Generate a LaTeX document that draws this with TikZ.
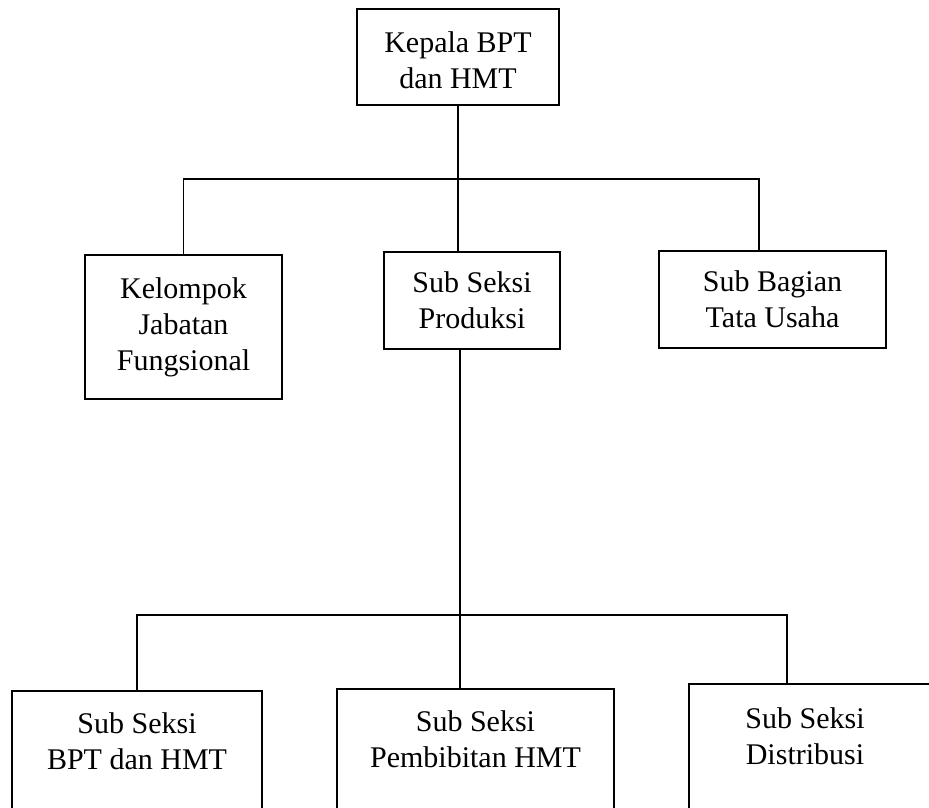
\documentclass[tikz,border=0pt]{standalone}
\usepackage{fontspec}
\setmainfont{Liberation Serif}
\begin{document}
\begin{tikzpicture}[x=1pt,y=-1pt,line width=1.9pt,
  orgbox/.style={draw,rectangle,inner sep=0pt,align=center,font=\fontsize{30}{36}\selectfont},
  orgtext/.style={inner sep=0pt,align=center,font=\fontsize{30}{36}\selectfont},
  link/.style={draw,line width=1.9pt}]
\clip (0,0) rectangle (929,807);
\fill[white] (0,0) rectangle (929,807);
% boxes
\node[orgbox,minimum width=202pt,minimum height=96pt] (top) at (458,57) {};
\node[orgtext] (topt) at (458,60) {Kepala BPT\\dan HMT};
\node[orgbox,minimum width=197pt,minimum height=144pt] (kel) at (183.5,327) {Kelompok\\Jabatan\\Fungsional};
\node[orgbox,minimum width=176pt,minimum height=97pt] (prod) at (472,300.5) {Sub Seksi\\Produksi};
\node[orgbox,minimum width=227pt,minimum height=97pt] (bag) at (772.5,299.5) {Sub Bagian\\Tata Usaha};
\node[orgbox,minimum width=250pt,minimum height=160pt,anchor=north] (b1) at (137,690) {};
\node[orgbox,minimum width=277pt,minimum height=160pt,anchor=north] (b2) at (475.5,688) {};
\node[orgbox,minimum width=260pt,minimum height=160pt,anchor=north west] (b3) at (688,683) {};
\node[orgtext] (b1t) at (137,741) {Sub Seksi\\BPT dan HMT};
\node[orgtext] (b2t) at (475.5,739) {Sub Seksi\\Pembibitan HMT};
\node[orgtext] (b3t) at (805,736) {Sub Seksi\\Distribusi};
% junction coordinates
\coordinate (j1) at (458,179);
\coordinate (bagin) at (759,251);
\coordinate (j2) at (460,615);
\coordinate (b3in) at (787,683);
% connectors
\draw[link] (top.south) -- (top.south |- prod.north);
\draw[link] (kel.north) -- (kel.north |- j1) -- (bagin |- j1) -- (bagin);
\draw[link] (j2 |- prod.south) -- (j2 |- b2.north);
\draw[link] (b1.north) -- (b1.north |- j2) -- (b3in |- j2) -- (b3in);
\end{tikzpicture}
\end{document}
